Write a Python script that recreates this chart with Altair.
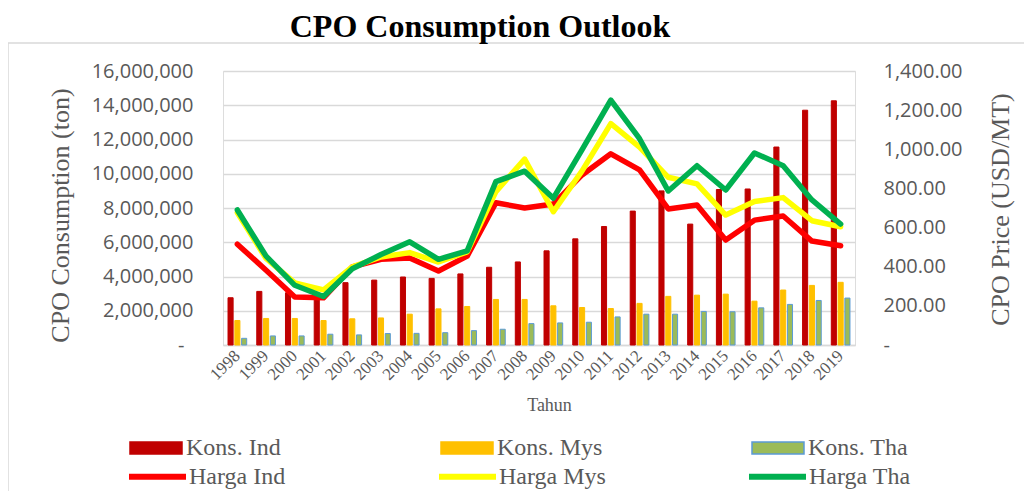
import altair as alt
import pandas as pd

years = [str(y) for y in range(1998, 2020)]

kons_names = ["Kons. Ind", "Kons. Mys", "Kons. Tha"]
harga_names = ["Harga Ind", "Harga Mys", "Harga Tha"]

kons_ind = [2760000, 3130000, 3050000, 2950000, 3640000, 3790000, 3970000, 3890000,
            4150000, 4540000, 4850000, 5500000, 6200000, 6920000, 7820000, 9000000,
            7060000, 9080000, 9110000, 11560000, 13710000, 14260000]
kons_mys = [1430000, 1550000, 1550000, 1430000, 1530000, 1580000, 1800000, 2110000,
            2250000, 2660000, 2660000, 2290000, 2190000, 2130000, 2430000, 2840000,
            2910000, 2970000, 2560000, 3210000, 3480000, 3660000]
kons_tha = [390000, 530000, 530000, 630000, 590000, 670000, 680000, 720000,
            840000, 920000, 1250000, 1290000, 1330000, 1640000, 1800000, 1800000,
            1960000, 1940000, 2170000, 2370000, 2600000, 2740000]

harga_ind = [515, 382, 245, 241, 399, 438, 445, 378, 454, 727, 700, 720, 869, 977,
             895, 695, 715, 536, 638, 659, 531, 507]
harga_mys = [676, 442, 317, 282, 399, 450, 472, 424, 476, 784, 950, 681, 890, 1131,
             1011, 857, 823, 664, 733, 753, 635, 604]
harga_tha = [690, 454, 305, 248, 390, 462, 527, 438, 481, 835, 888, 750, 998, 1251,
             1054, 787, 916, 792, 981, 916, 741, 618]

left_ticks = [0, 2000000, 4000000, 6000000, 8000000, 10000000, 12000000, 14000000, 16000000]
right_ticks = [0, 200, 400, 600, 800, 1000, 1200, 1400]

kons_fill = ["#C00000", "#FFC000", "#9BBB59"]
kons_stroke = ["#C00000", "#FFC000", "#5B9BD5"]
harga_colors = ["#FF0000", "#FFFF00", "#00B050"]

bars_df = pd.DataFrame({
    "year": years * 3,
    "series": [kons_names[0]] * 22 + [kons_names[1]] * 22 + [kons_names[2]] * 22,
    "value": kons_ind + kons_mys + kons_tha,
})
lines_df = pd.DataFrame({
    "year": years * 3,
    "series": [harga_names[0]] * 22 + [harga_names[1]] * 22 + [harga_names[2]] * 22,
    "price": harga_ind + harga_mys + harga_tha,
})

GRAY = "#595959"
SERIF = "Liberation Serif"
SANS = "Open Sans"

x_enc = alt.X(
    "year:N",
    sort=years,
    scale=alt.Scale(paddingInner=0.35, paddingOuter=0.175),
    axis=alt.Axis(
        title="Tahun", titleFont=SERIF, titleFontSize=18, titleFontWeight="normal",
        titleColor=GRAY, titleX=326, titleY=60,
        titleBaseline="middle", titleAlign="center",
        labelAngle=-45, labelAlign="right", labelBaseline="middle",
        labelFont=SERIF, labelFontSize=17, labelColor=GRAY, labelPadding=8,
        ticks=False, tickSize=0, domainColor="#D9D9D9", domainWidth=1.5,
    ),
)

bar_legend = alt.Legend(
    title=None, orient="none", legendX=-94, legendY=350, columns=3,
    direction="horizontal", gridAlign="all", columnPadding=146,
    symbolType="M-1,-0.23L1,-0.23L1,0.23L-1,0.23Z", symbolSize=2704,
    symbolStrokeWidth=1.5, labelFont=SERIF, labelFontSize=24,
    labelColor=GRAY, labelOffset=3, labelLimit=300,
)

bars = alt.Chart(bars_df).mark_bar(strokeWidth=1).encode(
    x=x_enc,
    xOffset=alt.XOffset("series:N", sort=kons_names,
                        scale=alt.Scale(paddingInner=0.25, paddingOuter=0)),
    y=alt.Y(
        "value:Q",
        scale=alt.Scale(domain=[0, 16000000], nice=False),
        axis=alt.Axis(
            values=left_ticks, grid=True, gridColor="#D9D9D9", gridWidth=1.5,
            domain=False, ticks=False, tickSize=0,
            labelPadding={"condition": {"test": "datum.value == 0", "value": 39}, "value": 30},
            labelFont=SANS, labelFontSize=20, labelColor=GRAY,
            labelExpr="datum.value == 0 ? '-' : format(datum.value, ',')",
            title="CPO Consumption (ton)", titleFont=SERIF, titleFontSize=26,
            titleFontWeight="normal", titleColor=GRAY, titleX=-163, titleY=144,
            titleAngle=270, titleAlign="center", titleBaseline="middle",
        ),
    ),
    fill=alt.Fill("series:N", scale=alt.Scale(domain=kons_names, range=kons_fill),
                  legend=bar_legend),
    stroke=alt.Stroke("series:N", scale=alt.Scale(domain=kons_names, range=kons_stroke),
                      legend=bar_legend),
)

y2_axis = alt.Axis(
    orient="right", values=right_ticks, grid=False, domain=False, ticks=False,
    tickSize=0, labelPadding=28, labelFont=SANS, labelFontSize=20, labelColor=GRAY,
    labelExpr="datum.value == 0 ? '-' : format(datum.value, ',.2f')",
    title="CPO Price (USD/MT)", titleFont=SERIF, titleFontSize=26,
    titleFontWeight="normal", titleColor=GRAY, titleX=145, titleY=138,
    titleAngle=270, titleAlign="center", titleBaseline="middle",
)

line_legend = alt.Legend(
    title=None, orient="none", legendX=-97, legendY=374, columns=3,
    direction="horizontal", gridAlign="all", columnPadding=131,
    symbolType="stroke", symbolSize=3249, symbolStrokeWidth=6,
    labelFont=SERIF, labelFontSize=24, labelColor=GRAY,
    labelOffset=0, labelLimit=300,
)


def line_layer(name):
    return alt.Chart(lines_df).transform_filter(
        alt.datum.series == name
    ).mark_line(strokeWidth=5.5, strokeJoin="round", strokeCap="round").encode(
        x=x_enc,
        y=alt.Y("price:Q", scale=alt.Scale(domain=[0, 1400], nice=False), axis=y2_axis),
        color=alt.Color("series:N",
                        scale=alt.Scale(domain=harga_names, range=harga_colors),
                        legend=line_legend),
    )


lines = alt.layer(line_layer(harga_names[0]), line_layer(harga_names[1]),
                  line_layer(harga_names[2]))

frame_df = pd.DataFrame({"k": [0]})
border_top = alt.Chart(frame_df).mark_rule(color="#D9D9D9", strokeWidth=1.5).encode(
    x=alt.value(-215), x2=alt.value(801), y=alt.value(-28))
border_left = alt.Chart(frame_df).mark_rule(color="#D9D9D9", strokeWidth=1.5).encode(
    x=alt.value(-215), y=alt.value(-28), y2=alt.value(428))

chart = alt.layer(bars, lines, border_top, border_left).resolve_scale(
    y="independent"
).properties(
    width=632,
    height=274,
    autosize=alt.AutoSizeParams(type="none"),
    padding={"left": 215, "top": 63, "right": 169, "bottom": 146},
    title=alt.TitleParams(
        "CPO Consumption Outlook", font=SERIF, fontSize=32, fontWeight="bold",
        color="black", anchor="middle", dx=-59, dy=12, offset=10,
    ),
).configure_view(stroke=None).configure(background="white")

chart.save("out.html", embed_options={"renderer": "svg", "actions": False})
